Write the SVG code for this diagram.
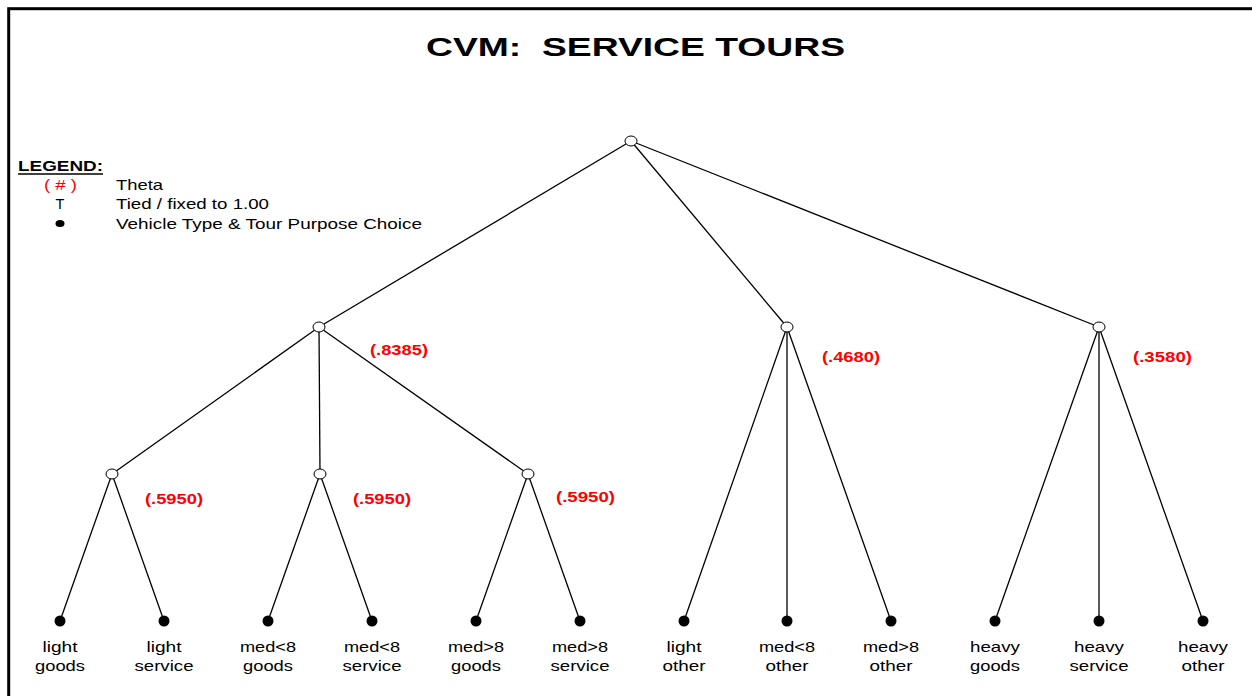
<svg xmlns="http://www.w3.org/2000/svg" width="1252" height="696" viewBox="0 0 1252 696">
<style>
text{font-family:"Liberation Sans",Arial,sans-serif;}
.lbl{font-size:14.5px;text-anchor:middle;fill:#000;}
.th{font-size:14.5px;font-weight:bold;fill:#ff0000;}
.leg{font-size:14.5px;fill:#000;}
.open{fill:#fff;stroke:#000;stroke-width:1;}
.leaf{fill:#000;}
#edges line{stroke:#000;stroke-width:1.3;}
</style>
<rect x="0" y="0" width="1252" height="696" fill="#fff"/>
<rect x="8.7" y="8.7" width="1300" height="760" fill="none" stroke="#000" stroke-width="3"/>
<text x="426" y="56" font-size="26.5" font-weight="bold" textLength="419" lengthAdjust="spacingAndGlyphs" xml:space="preserve">CVM:  SERVICE TOURS</text>
<g id="legend">
<text x="18" y="171" class="leg" font-weight="bold" textLength="85" lengthAdjust="spacingAndGlyphs">LEGEND:</text>
<line x1="18" y1="174" x2="103" y2="174" stroke="#000" stroke-width="1.5"/>
<text x="44" y="190" class="leg" style="fill:#ff0000" textLength="33" lengthAdjust="spacingAndGlyphs" xml:space="preserve">( # )</text>
<text x="116" y="190" class="leg" textLength="47" lengthAdjust="spacingAndGlyphs">Theta</text>
<text x="60" y="209" class="lbl">T</text>
<text x="116" y="209" class="leg" textLength="153" lengthAdjust="spacingAndGlyphs">Tied / fixed to 1.00</text>
<ellipse cx="60" cy="223.5" rx="4.5" ry="3.5" fill="#000"/>
<text x="116" y="229" class="leg" textLength="306" lengthAdjust="spacingAndGlyphs">Vehicle Type &amp; Tour Purpose Choice</text>
</g>
<g id="edges">
<line x1="631" y1="141" x2="319" y2="327"/>
<line x1="631" y1="141" x2="787" y2="327"/>
<line x1="631" y1="141" x2="1099" y2="327"/>
<line x1="319" y1="327" x2="112" y2="474"/>
<line x1="319" y1="327" x2="320" y2="474"/>
<line x1="319" y1="327" x2="528" y2="474"/>
<line x1="112" y1="474" x2="60" y2="621"/>
<line x1="112" y1="474" x2="164" y2="621"/>
<line x1="320" y1="474" x2="268" y2="621"/>
<line x1="320" y1="474" x2="372" y2="621"/>
<line x1="528" y1="474" x2="476" y2="621"/>
<line x1="528" y1="474" x2="580" y2="621"/>
<line x1="787" y1="327" x2="684" y2="621"/>
<line x1="787" y1="327" x2="787" y2="621"/>
<line x1="787" y1="327" x2="891" y2="621"/>
<line x1="1099" y1="327" x2="995" y2="621"/>
<line x1="1099" y1="327" x2="1099" y2="621"/>
<line x1="1099" y1="327" x2="1203" y2="621"/>
</g>
<g id="root"><ellipse class="open" cx="631" cy="141" rx="6" ry="5"/></g>
<g id="n-light-med"><ellipse class="open" cx="319" cy="327" rx="6" ry="5"/><text x="370" y="355" class="th" textLength="58" lengthAdjust="spacingAndGlyphs">(.8385)</text></g>
<g id="n-other"><ellipse class="open" cx="787" cy="327" rx="6" ry="5"/><text x="822" y="362" class="th" textLength="58" lengthAdjust="spacingAndGlyphs">(.4680)</text></g>
<g id="n-heavy"><ellipse class="open" cx="1099" cy="327" rx="6" ry="5"/><text x="1133" y="362" class="th" textLength="59" lengthAdjust="spacingAndGlyphs">(.3580)</text></g>
<g id="n-light"><ellipse class="open" cx="112" cy="474" rx="6" ry="5"/><text x="145" y="504" class="th" textLength="58" lengthAdjust="spacingAndGlyphs">(.5950)</text></g>
<g id="n-med-lt8"><ellipse class="open" cx="320" cy="474" rx="6" ry="5"/><text x="353" y="504" class="th" textLength="58" lengthAdjust="spacingAndGlyphs">(.5950)</text></g>
<g id="n-med-gt8"><ellipse class="open" cx="528" cy="474" rx="6" ry="5"/><text x="556" y="502" class="th" textLength="59" lengthAdjust="spacingAndGlyphs">(.5950)</text></g>
<g id="leaf-1"><circle class="leaf" cx="60" cy="621" r="5.5"/><text class="lbl" x="60" y="651.5" textLength="35" lengthAdjust="spacingAndGlyphs">light</text><text class="lbl" x="60" y="670.5" textLength="50" lengthAdjust="spacingAndGlyphs">goods</text></g>
<g id="leaf-2"><circle class="leaf" cx="164" cy="621" r="5.5"/><text class="lbl" x="164" y="651.5" textLength="35" lengthAdjust="spacingAndGlyphs">light</text><text class="lbl" x="164" y="670.5" textLength="59" lengthAdjust="spacingAndGlyphs">service</text></g>
<g id="leaf-3"><circle class="leaf" cx="268" cy="621" r="5.5"/><text class="lbl" x="268" y="651.5" textLength="56" lengthAdjust="spacingAndGlyphs">med&lt;8</text><text class="lbl" x="268" y="670.5" textLength="50" lengthAdjust="spacingAndGlyphs">goods</text></g>
<g id="leaf-4"><circle class="leaf" cx="372" cy="621" r="5.5"/><text class="lbl" x="372" y="651.5" textLength="56" lengthAdjust="spacingAndGlyphs">med&lt;8</text><text class="lbl" x="372" y="670.5" textLength="59" lengthAdjust="spacingAndGlyphs">service</text></g>
<g id="leaf-5"><circle class="leaf" cx="476" cy="621" r="5.5"/><text class="lbl" x="476" y="651.5" textLength="56" lengthAdjust="spacingAndGlyphs">med&gt;8</text><text class="lbl" x="476" y="670.5" textLength="50" lengthAdjust="spacingAndGlyphs">goods</text></g>
<g id="leaf-6"><circle class="leaf" cx="580" cy="621" r="5.5"/><text class="lbl" x="580" y="651.5" textLength="56" lengthAdjust="spacingAndGlyphs">med&gt;8</text><text class="lbl" x="580" y="670.5" textLength="59" lengthAdjust="spacingAndGlyphs">service</text></g>
<g id="leaf-7"><circle class="leaf" cx="684" cy="621" r="5.5"/><text class="lbl" x="684" y="651.5" textLength="35" lengthAdjust="spacingAndGlyphs">light</text><text class="lbl" x="684" y="670.5" textLength="43" lengthAdjust="spacingAndGlyphs">other</text></g>
<g id="leaf-8"><circle class="leaf" cx="787" cy="621" r="5.5"/><text class="lbl" x="787" y="651.5" textLength="56" lengthAdjust="spacingAndGlyphs">med&lt;8</text><text class="lbl" x="787" y="670.5" textLength="43" lengthAdjust="spacingAndGlyphs">other</text></g>
<g id="leaf-9"><circle class="leaf" cx="891" cy="621" r="5.5"/><text class="lbl" x="891" y="651.5" textLength="56" lengthAdjust="spacingAndGlyphs">med&gt;8</text><text class="lbl" x="891" y="670.5" textLength="43" lengthAdjust="spacingAndGlyphs">other</text></g>
<g id="leaf-10"><circle class="leaf" cx="995" cy="621" r="5.5"/><text class="lbl" x="995" y="651.5" textLength="50" lengthAdjust="spacingAndGlyphs">heavy</text><text class="lbl" x="995" y="670.5" textLength="50" lengthAdjust="spacingAndGlyphs">goods</text></g>
<g id="leaf-11"><circle class="leaf" cx="1099" cy="621" r="5.5"/><text class="lbl" x="1099" y="651.5" textLength="50" lengthAdjust="spacingAndGlyphs">heavy</text><text class="lbl" x="1099" y="670.5" textLength="59" lengthAdjust="spacingAndGlyphs">service</text></g>
<g id="leaf-12"><circle class="leaf" cx="1203" cy="621" r="5.5"/><text class="lbl" x="1203" y="651.5" textLength="50" lengthAdjust="spacingAndGlyphs">heavy</text><text class="lbl" x="1203" y="670.5" textLength="43" lengthAdjust="spacingAndGlyphs">other</text></g>
</svg>
